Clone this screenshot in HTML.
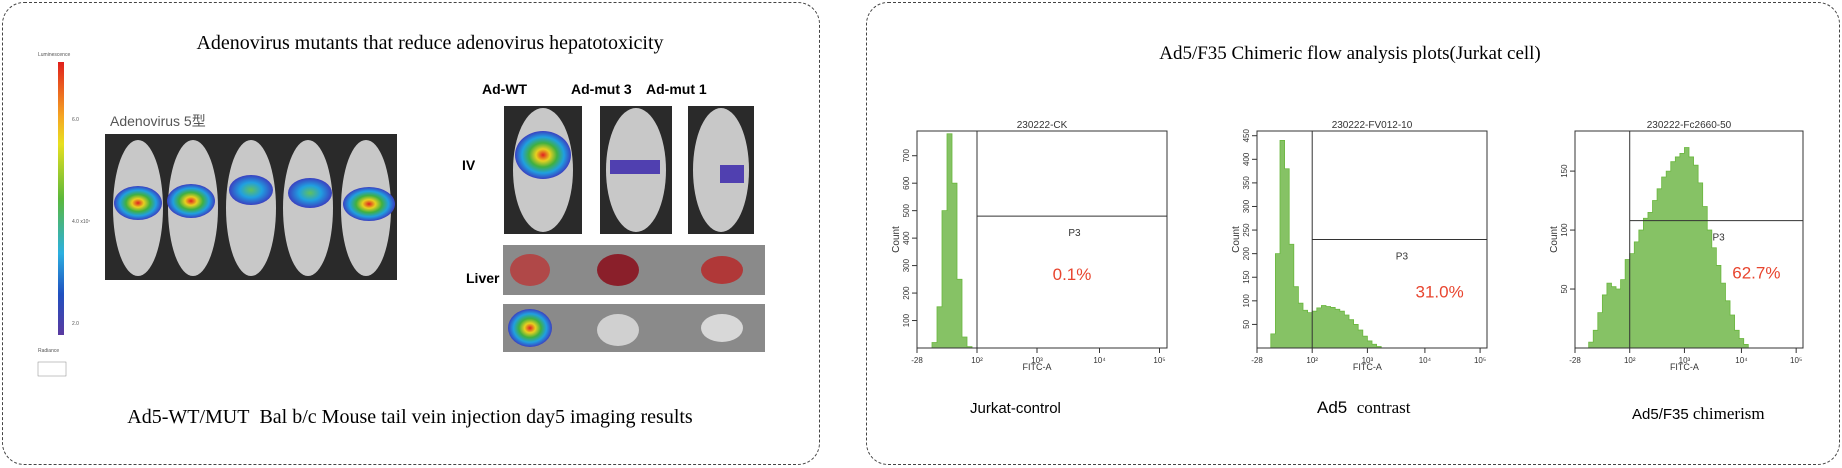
<!DOCTYPE html>
<html><head><meta charset="utf-8">
<style>
body{margin:0;width:1842px;height:468px;background:#fff;position:relative;overflow:hidden;font-family:"Liberation Sans",sans-serif}
.abs{position:absolute}
.box{position:absolute;border:1.5px dashed #444;border-radius:22px}
.serif{font-family:"Liberation Serif","Noto Serif CJK SC",serif}
</style></head><body>
<div class="box" style="left:2px;top:2px;width:816px;height:461px"></div>
<div class="box" style="left:866px;top:2px;width:972px;height:461px"></div>
<div class="abs serif" style="left:160px;top:32px;width:540px;text-align:center;font-size:20px">Adenovirus mutants that reduce adenovirus hepatotoxicity</div>
<div class="abs serif" style="left:20px;top:406px;width:780px;text-align:center;font-size:20px">Ad5-WT/MUT&nbsp; Bal b/c Mouse tail vein injection day5 imaging results</div>
<div class="abs serif" style="left:1110px;top:43px;width:480px;text-align:center;font-size:19px">Ad5/F35 Chimeric flow analysis plots(Jurkat cell)</div>

<svg class="abs" style="left:0;top:0" width="1842" height="468">
<defs>
<linearGradient id="cb" x1="0" y1="0" x2="0" y2="1">
<stop offset="0" stop-color="#e0201c"/><stop offset="0.2" stop-color="#f5a623"/><stop offset="0.3" stop-color="#e8e020"/><stop offset="0.5" stop-color="#5cb83a"/><stop offset="0.7" stop-color="#2cb0e0"/><stop offset="0.85" stop-color="#2050c0"/><stop offset="1" stop-color="#5a3aa0"/></linearGradient>
<radialGradient id="blob"><stop offset="0" stop-color="#e02020"/><stop offset="0.25" stop-color="#e8d020"/><stop offset="0.5" stop-color="#40b040"/><stop offset="0.75" stop-color="#20a0e0"/><stop offset="1" stop-color="#3a40c0"/></radialGradient>
<radialGradient id="blob2"><stop offset="0" stop-color="#60c060"/><stop offset="0.5" stop-color="#20a0e0"/><stop offset="1" stop-color="#3a40c0"/></radialGradient>
</defs>
<g>
<text x="38" y="56" font-size="5" fill="#555">Luminescence</text>
<rect x="58" y="62" width="6" height="273" fill="url(#cb)"/>
<text x="72" y="121" font-size="5" fill="#555">6.0</text><text x="72" y="223" font-size="5" fill="#555">4.0 x10⁷</text><text x="72" y="325" font-size="5" fill="#555">2.0</text>
<text x="38" y="352" font-size="5" fill="#555">Radiance</text>
<rect x="38" y="362" width="28" height="14" fill="#fff" stroke="#888" stroke-width="0.5"/>
</g>
<text x="110" y="126" font-size="14" fill="#555">Adenovirus 5型</text>
<g>
<rect x="105" y="134" width="292" height="146" fill="#2a2a2a"/>
<g fill="#c8c8c8">
<ellipse cx="138" cy="208" rx="25" ry="68"/><ellipse cx="193" cy="208" rx="25" ry="68"/><ellipse cx="251" cy="208" rx="25" ry="68"/><ellipse cx="308" cy="208" rx="25" ry="68"/><ellipse cx="366" cy="208" rx="25" ry="68"/></g>
<ellipse cx="138" cy="203" rx="24" ry="17" fill="url(#blob)"/><ellipse cx="191" cy="201" rx="24" ry="17" fill="url(#blob)"/><ellipse cx="251" cy="190" rx="22" ry="15" fill="url(#blob2)"/><ellipse cx="310" cy="193" rx="22" ry="15" fill="url(#blob2)"/><ellipse cx="369" cy="204" rx="26" ry="17" fill="url(#blob)"/>
</g>
<g font-size="14" font-weight="bold">
<text x="482" y="94">Ad-WT</text><text x="571" y="94">Ad-mut 3</text><text x="646" y="94">Ad-mut 1</text>
<text x="462" y="170">IV</text><text x="466" y="283">Liver</text></g>
<g>
<rect x="504" y="106" width="78" height="128" fill="#2a2a2a"/><rect x="600" y="106" width="72" height="128" fill="#2a2a2a"/><rect x="688" y="106" width="66" height="128" fill="#2a2a2a"/>
<ellipse cx="543" cy="170" rx="30" ry="62" fill="#c8c8c8"/><ellipse cx="636" cy="170" rx="30" ry="62" fill="#c8c8c8"/><ellipse cx="721" cy="170" rx="28" ry="62" fill="#c8c8c8"/>
<ellipse cx="543" cy="155" rx="28" ry="24" fill="url(#blob)"/>
<rect x="610" y="160" width="50" height="14" fill="#5040b0"/><rect x="720" y="165" width="24" height="18" fill="#5040b0"/>
<rect x="503" y="245" width="262" height="50" fill="#8a8a8a"/><rect x="503" y="304" width="262" height="48" fill="#8a8a8a"/>
<ellipse cx="530" cy="270" rx="20" ry="16" fill="#b04848"/><ellipse cx="618" cy="270" rx="21" ry="16" fill="#8a1f2a"/><ellipse cx="722" cy="270" rx="21" ry="14" fill="#b03838"/>
<ellipse cx="530" cy="328" rx="22" ry="19" fill="url(#blob)"/><ellipse cx="618" cy="330" rx="21" ry="16" fill="#d0d0d0"/><ellipse cx="722" cy="328" rx="21" ry="14" fill="#d8d8d8"/>
</g>
<g id="plots"></g>
</svg>
<div class="abs" style="left:970px;top:400px;font-size:15px">Jurkat-control</div>
<div class="abs" style="left:1317px;top:398px;font-size:17px">Ad5&nbsp; <span class="serif">contrast</span></div>
<div class="abs" style="left:1632px;top:404px;font-size:15px">Ad5/F35 <span class="serif" style="font-size:17px">chimerism</span></div>
<script>
const titles=["230222-CK","230222-FV012-10","230222-Fc2660-50"];
const pcts=["0.1%","31.0%","62.7%"];
const yMaxs=[790,460,184];
const yTicks1=[100,200,300,400,500,600,700];
const yTicks2=[50,100,150,200,250,300,350,400,450];
const yTicks3=[50,100,150];
const xTickLabels=["-28","10²","10³","10⁴","10⁵"];
const gateLevels=[480,230,108];
const counts1=[0,0,0,20,150,500,780,600,250,40,5,0,0,0,0,0,0,0,0,0,0,0,0,0,0,0,0,0,0,0,0,0,0,0,0,0,0,0,0,0,0,0,0,0,0,0,0,0,0,0];
const counts2=[0,0,0,30,200,440,380,220,130,95,80,75,78,85,90,88,86,82,78,70,60,50,38,25,15,8,3,0,0,0,0,0,0,0,0,0,0,0,0,0,0,0,0,0,0,0,0,0,0,0];
const counts3=[0,0,0,5,15,30,45,55,52,50,58,75,80,90,100,110,115,125,135,145,150,158,162,165,170,162,155,140,120,100,85,70,55,40,28,15,8,3,0,0,0,0,0,0,0,0,0,0,0,0];
const boxes=[{x:917,y:131,w:250,h:217},{x:1257,y:131,w:230,h:217},{x:1575,y:131,w:228,h:217}];
const allCounts=[counts1,counts2,counts3], allTicks=[yTicks1,yTicks2,yTicks3];
const NS="http://www.w3.org/2000/svg", root=document.getElementById('plots');
function mk(t,a,p){const e=document.createElementNS(NS,t);for(const k in a)e.setAttribute(k,a[k]);(p||root).appendChild(e);return e;}
boxes.forEach((b,i)=>{
 const g=mk('g',{});
 
 
 const sx=f=>b.x+f*b.w, sy=v=>b.y+b.h-v/yMaxs[i]*b.h;
 const c=allCounts[i], n=c.length;
 let d='M'+sx(0)+','+sy(0);
 c.forEach((v,j)=>{d+=' L'+sx(j/n)+','+sy(v)+' L'+sx((j+1)/n)+','+sy(v);});
 d+=' L'+sx(1)+','+sy(0)+'Z';
 const h=mk('path',{d:d,fill:'#86c265',stroke:'#6ab73e','stroke-width':0.8},g);
 
 
 mk('rect',{x:b.x,y:b.y,width:b.w,height:b.h,fill:'none',stroke:'#333','stroke-width':1},g);
 const gx=sx(0.24);
 mk('line',{x1:gx,y1:b.y,x2:gx,y2:b.y+b.h,stroke:'#333'},g);
 mk('line',{x1:gx,y1:sy(gateLevels[i]),x2:b.x+b.w,y2:sy(gateLevels[i]),stroke:'#333'},g);
 const t=mk('text',{x:b.x+b.w/2,y:b.y-3,'font-size':10,'text-anchor':'middle',fill:'#333'},g);t.textContent=titles[i];
 const p=mk('text',{x:sx(0.63),y:sy(gateLevels[i])+20,'font-size':10,'text-anchor':'middle',fill:'#333'},g);p.textContent='P3';
 const pc=mk('text',{x:sx(0.62)+(i?40:0),y:sy(gateLevels[i])+(i?58:64),'font-size':17,'text-anchor':'middle',fill:'#e8452f'},g);pc.textContent=pcts[i];
 allTicks[i].forEach(v=>{mk('line',{x1:b.x-5,y1:sy(v),x2:b.x,y2:sy(v),stroke:'#333'},g);
  const tt=mk('text',{x:b.x-8,y:sy(v),'font-size':8,'text-anchor':'middle',fill:'#333',transform:`rotate(-90 ${b.x-8} ${sy(v)})`},g);tt.textContent=v;});
 const yl=mk('text',{x:b.x-18,y:b.y+b.h/2,'font-size':10,'text-anchor':'middle',fill:'#333',transform:`rotate(-90 ${b.x-18} ${b.y+b.h/2})`},g);yl.textContent='Count';
 const xf=[0,0.24,0.48,0.73,0.97];
 xTickLabels.forEach((l,j)=>{const x=sx(xf[j]);mk('line',{x1:x,y1:b.y+b.h,x2:x,y2:b.y+b.h+5,stroke:'#333'},g);
  const tt=mk('text',{x:x,y:b.y+b.h+15,'font-size':8,'text-anchor':'middle',fill:'#333'},g);tt.textContent=l;});
 const xl=mk('text',{x:sx(0.48),y:b.y+b.h+22,'font-size':9,'text-anchor':'middle',fill:'#333'},g);xl.textContent='FITC-A';
});
</script>
</body></html>
